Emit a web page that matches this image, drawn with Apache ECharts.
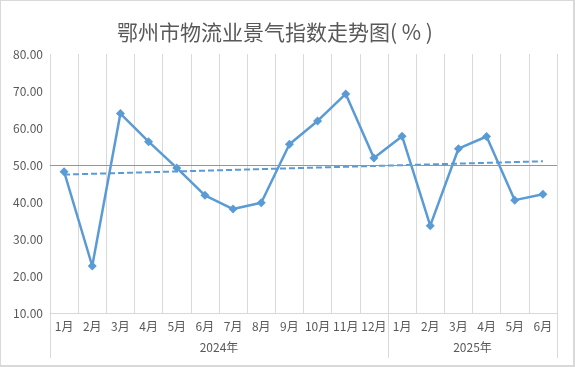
<!DOCTYPE html>
<html><head><meta charset="utf-8">
<script src="https://cdn.jsdelivr.net/npm/echarts@6/dist/echarts.min.js"></script>
<style>
html,body{margin:0;padding:0;background:#fff;}
#c{width:575px;height:367px;box-sizing:border-box;border:1px solid #D9D9D9;border-right-width:2px;border-bottom-width:2px;}
</style></head>
<body><div id="c"></div>
<script>
const months = ['1月','2月','3月','4月','5月','6月','7月','8月','9月','10月','11月','12月','1月','2月','3月','4月','5月','6月'];
const years = ['2024年','2025年'];
const yearMonthCounts = [12, 6];
const index = [48.2,22.7,63.9,56.3,49.2,41.8,38.1,39.8,55.6,61.9,69.2,51.9,57.8,33.6,54.4,57.7,40.5,42.1];
const trendStart = 47.4;
const trendEnd = 51.0;
const refLevel = 50;
const yTicks = [10,20,30,40,50,60,70,80];

const n = months.length;
const trend = months.map((_, i) => i === 0 ? trendStart : (i === n - 1 ? trendEnd : null));
const bounds = [0]; yearMonthCounts.forEach(c => bounds.push(bounds[bounds.length-1] + c));
const centers = yearMonthCounts.map((c, i) => bounds[i] + c / 2);

const txt = '#595959';
const font = '"Noto Sans CJK SC", "Microsoft YaHei", sans-serif';
const chart = echarts.init(document.getElementById('c'));
chart.setOption({
  animation: false,
  title: {
    text: '鄂州市物流业景气指数走势图( % )',
    left: 269, top: 16, textAlign: 'center',
    textStyle: {fontSize: 21, fontWeight: 'normal', color: txt, fontFamily: font}
  },
  grid: {left: 49, right: 16, top: 53, bottom: 52, containLabel: false},
  xAxis: [
    {
      type: 'category', data: months, boundaryGap: true,
      axisLine: {show: true, lineStyle: {color: '#D9D9D9', width: 1}},
      axisTick: {show: false},
      splitLine: {show: true, interval: 0, lineStyle: {color: '#D9D9D9', width: 1}},
      axisLabel: {interval: 0, color: txt, fontSize: 12, margin: 7, fontFamily: font}
    },
    {
      type: 'value', position: 'bottom', min: 0, max: n,
      axisLine: {show: false},
      axisTick: {show: true, customValues: bounds, length: 45, inside: false, lineStyle: {color: '#D9D9D9', width: 1}},
      splitLine: {show: false},
      axisLabel: {
        customValues: centers, color: txt, fontSize: 12, margin: 28, fontFamily: font,
        formatter: v => { const k = centers.indexOf(v); return k >= 0 ? years[k] : ''; }
      }
    }
  ],
  yAxis: {
    type: 'value', min: yTicks[0], max: yTicks[yTicks.length-1], interval: 10,
    axisLine: {show: false}, axisTick: {show: false}, splitLine: {show: false},
    axisLabel: {color: txt, fontSize: 12, margin: 7, fontFamily: font, formatter: v => v.toFixed(2)}
  },
  series: [
    {
      type: 'line', data: index, xAxisIndex: 0,
      symbol: 'diamond', symbolSize: 9,
      lineStyle: {color: '#5B9BD5', width: 2.5},
      itemStyle: {color: '#5B9BD5'},
      markLine: {
        silent: true, symbol: 'none', label: {show: false},
        lineStyle: {color: '#ED7D31', width: 1, type: 'solid'},
        data: [{yAxis: refLevel}]
      },
      z: 3
    },
    {
      type: 'line', data: trend, xAxisIndex: 0, connectNulls: true,
      symbol: 'none',
      lineStyle: {color: '#5B9BD5', width: 2, type: [6, 3]},
      z: 2
    }
  ]
});
</script></body></html>
